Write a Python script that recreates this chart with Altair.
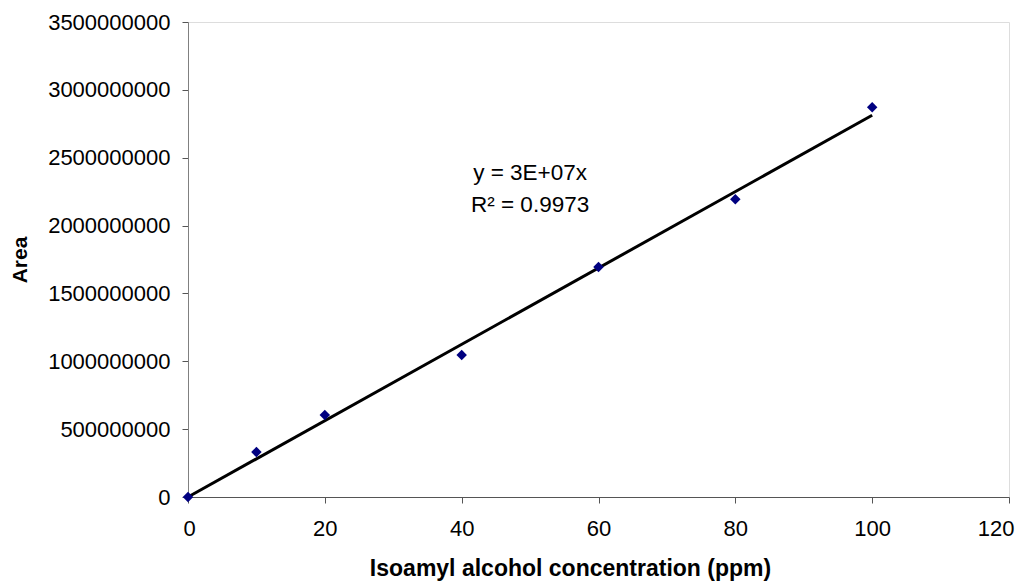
import altair as alt
import numpy as np
import pandas as pd

conc = [0, 10, 20, 40, 60, 80, 100]
area = [0, 3.31e8, 6.04e8, 1.046e9, 1.694e9, 2.194e9, 2.872e9]

eq_lines = ["y = 3E+07x", "R\u00b2 = 0.9973"]
eq_x = [50, 50]
eq_y = [2.39e9, 2.15e9]

x_ticks = [0, 20, 40, 60, 80, 100, 120]
y_ticks = [0, 5e8, 1e9, 1.5e9, 2e9, 2.5e9, 3e9, 3.5e9]

# least squares through origin (Excel trendline, intercept = 0)
xa = np.array(conc, dtype=float)
ya = np.array(area, dtype=float)
slope = float((xa * ya).sum() / (xa * xa).sum())
trend = pd.DataFrame({"x": [min(conc), max(conc)], "y": [slope * min(conc), slope * max(conc)]})

pts = pd.DataFrame({"x": conc, "y": area})
eq = pd.DataFrame({"t": eq_lines, "x": eq_x, "y": eq_y})

FONT = "Liberation Sans"

xs = alt.Scale(domain=[0, 120], nice=False, zero=True)
ys = alt.Scale(domain=[0, 3.5e9], nice=False)

xaxis = alt.Axis(values=x_ticks, grid=False, labelFontSize=22, labelFont=FONT, labelColor="#000000",
                 labelPadding=15, labelFlush=True, labelFlushOffset=5, tickSize=6,
                 tickColor="#555555", domainColor="#555555",
                 title="Isoamyl alcohol concentration (ppm)", titleFont=FONT, titleFontSize=23,
                 titleFontWeight="bold", titleColor="#000000", titleX=382, titleY=78,
                 titleAlign="center", titleBaseline="alphabetic", format="d")
yaxis = alt.Axis(values=y_ticks, grid=False, labelFontSize=22, labelFont=FONT, labelColor="#000000",
                 labelPadding=12, tickSize=6, tickColor="#555555", domainColor="#808080",
                 title="Area", titleFont=FONT, titleFontSize=21, titleFontWeight="bold",
                 titleColor="#000000", titleX=-168, titleBaseline="middle", format="d")

line = alt.Chart(trend).mark_line(color="#000000", strokeWidth=3).encode(
    x=alt.X("x:Q", scale=xs, axis=xaxis),
    y=alt.Y("y:Q", scale=ys, axis=yaxis),
)
points = alt.Chart(pts).mark_point(shape="diamond", filled=True, color="#000080", size=110, opacity=1).encode(
    x=alt.X("x:Q", scale=xs),
    y=alt.Y("y:Q", scale=ys),
)
text = alt.Chart(eq).mark_text(font=FONT, fontSize=22.5, color="#000000", align="center", baseline="middle").encode(
    x=alt.X("x:Q", scale=xs),
    y=alt.Y("y:Q", scale=ys),
    text="t:N",
)

chart = (line + points + text).properties(
    width=821, height=475,
    autosize=alt.AutoSizeParams(type="none"),
    padding={"left": 180, "top": 14, "right": 6, "bottom": 85},
).configure_view(stroke=None).configure(background="#ffffff")

chart.save("out.html", embed_options={"renderer": "svg", "actions": False})
